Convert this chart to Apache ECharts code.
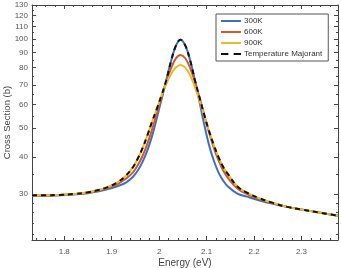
<!DOCTYPE html>
<html><head><meta charset="utf-8">
<script src="https://cdn.jsdelivr.net/npm/echarts@6/dist/echarts.min.js"></script>
<style>html,body{margin:0;padding:0;background:#fff}#c{width:341px;height:268px}</style>
</head><body><div id="c"></div>
<script>
const energy = [1.732,1.76,1.79,1.82,1.85,1.87,1.89,1.91,1.93,1.945,1.955,1.965,1.975,1.985,1.995,2.005,2.015,2.025,2.035,2.045,2.055,2.065,2.075,2.085,2.095,2.105,2.115,2.125,2.135,2.145,2.165,2.185,2.21,2.24,2.27,2.30,2.34,2.377];
const s300 = [29.6,29.6,29.7,29.9,30.2,30.6,31.1,31.8,32.8,34.3,36.0,38.5,42.0,47.0,54,62.5,72.5,84,94.5,99.3,95,85,73,61.5,51.5,44,39,35.5,33.3,31.8,30.1,29.4,28.6,27.8,27.15,26.6,25.95,25.35];
const s600 = [29.7,29.7,29.8,30.0,30.3,30.8,31.4,32.3,33.8,35.5,37.5,40.3,44.2,49.5,56,63.5,71.5,79.5,85.8,88.2,86,80,72,63.5,55.5,48.5,43,39,36,34,31.3,30.0,28.9,27.95,27.15,26.6,25.95,25.35];
const s900 = [29.7,29.7,29.8,30.0,30.4,30.9,31.6,32.7,34.6,37,39.5,42.8,47.2,52.5,58,64.5,70.5,76,80,81.6,80,75.5,69,62,55,49,44,40,37,35,31.8,30.3,29.1,28.0,27.15,26.6,25.95,25.35];
const sMaj = [29.7,29.7,29.8,30.0,30.4,30.9,31.6,32.7,34.6,37,39.5,42.8,47.2,52.5,58,64.5,72.5,84,94.5,99.3,95,85,73,63.5,55.5,49,44,40,37,35,31.8,30.3,29.1,28.0,27.15,26.6,25.95,25.35];
const yTickLabels = [30,40,50,60,70,80,90,100,110,120,130];
const yMinorTicks = [22,24,26,28,35,45,55,65,75,85,95,105,115,125];
const xTickLabels = [1.8,1.9,2.0,2.1,2.2,2.3];
const xMinorTicks = [1.74,1.76,1.78,1.82,1.84,1.86,1.88,1.92,1.94,1.96,1.98,2.02,2.04,2.06,2.08,2.12,2.14,2.16,2.18,2.22,2.24,2.26,2.28,2.32,2.34,2.36];
const names = ['300K','600K','900K','Temperature Majorant'];

const pair = arr => energy.map((e,i)=>[e,arr[i]]);
const chart = echarts.init(document.getElementById('c'));
const axLine = {show:true,lineStyle:{color:'#444',width:1}};
const xBase = {type:'value',min:1.732,max:2.377,gridIndex:0,splitLine:{show:false}};
const yBase = {type:'log',min:21,max:130,splitLine:{show:false}};
const txt = {color:'#555',fontSize:8,fontFamily:'Liberation Sans'};
const solidIcon = 'path://M0,4 L20,4 L20,6 L0,6 Z';
const dashIcon = 'path://M0,4 L7,4 L7,6 L0,6 Z M12,4 L19,4 L19,6 L12,6 Z';
chart.setOption({
  animation:false,
  grid:{left:32,right:3,top:5,bottom:28,outerBoundsMode:'none',containLabel:false},
  legend:{
    data:[{name:names[0],icon:solidIcon},{name:names[1],icon:solidIcon},{name:names[2],icon:solidIcon},{name:names[3],icon:dashIcon}],
    orient:'vertical', left:216, top:14,
    backgroundColor:'#fff', borderColor:'#555', borderWidth:1, borderRadius:0,
    padding:[3,6,3,5], itemGap:3, itemWidth:20, itemHeight:8,
    textStyle:{color:'#333',fontSize:8,fontFamily:'Liberation Sans',padding:[0,0,0,-2]}
  },
  xAxis:[
    Object.assign({},xBase,{position:'bottom',axisLine:axLine,
      axisTick:{inside:true,length:4,customValues:xTickLabels,lineStyle:{color:'#444'}},
      axisLabel:Object.assign({customValues:xTickLabels,margin:8},txt),
      name:'Energy (eV)',nameLocation:'middle',nameGap:18,nameMoveOverlap:false,nameTextStyle:{color:'#444',fontSize:10,fontFamily:'Liberation Sans'}}),
    Object.assign({},xBase,{position:'bottom',axisLine:{show:false},
      axisTick:{inside:true,length:2,customValues:xMinorTicks,lineStyle:{color:'#444'}},axisLabel:{show:false}}),
    Object.assign({},xBase,{position:'top',axisLine:axLine,
      axisTick:{inside:true,length:4,customValues:xTickLabels,lineStyle:{color:'#444'}},axisLabel:{show:false}}),
    Object.assign({},xBase,{position:'top',axisLine:{show:false},
      axisTick:{inside:true,length:2,customValues:xMinorTicks,lineStyle:{color:'#444'}},axisLabel:{show:false}})
  ],
  yAxis:[
    Object.assign({},yBase,{position:'left',axisLine:axLine,
      axisTick:{inside:true,length:4,customValues:yTickLabels,lineStyle:{color:'#444'}},
      axisLabel:Object.assign({customValues:yTickLabels,margin:4},txt),
      name:'Cross Section (b)',nameLocation:'middle',nameGap:20,nameMoveOverlap:false,nameRotate:90,nameTextStyle:{color:'#444',fontSize:9.5,fontFamily:'Liberation Sans'}}),
    Object.assign({},yBase,{position:'left',axisLine:{show:false},
      axisTick:{inside:true,length:2,customValues:yMinorTicks,lineStyle:{color:'#444'}},axisLabel:{show:false}}),
    Object.assign({},yBase,{position:'right',axisLine:axLine,
      axisTick:{inside:true,length:4,customValues:yTickLabels,lineStyle:{color:'#444'}},axisLabel:{show:false}}),
    Object.assign({},yBase,{position:'right',axisLine:{show:false},
      axisTick:{inside:true,length:2,customValues:yMinorTicks,lineStyle:{color:'#444'}},axisLabel:{show:false}})
  ],
  series:[
    {name:names[0],type:'line',data:pair(s300),smooth:0.4,showSymbol:false,lineStyle:{color:'#3e6ec8',width:2},itemStyle:{color:'#3e6ec8'}},
    {name:names[1],type:'line',data:pair(s600),smooth:0.4,showSymbol:false,lineStyle:{color:'#d35a2a',width:2},itemStyle:{color:'#d35a2a'}},
    {name:names[2],type:'line',data:pair(s900),smooth:0.4,showSymbol:false,lineStyle:{color:'#e8bb2c',width:2},itemStyle:{color:'#e8bb2c'}},
    {name:names[3],type:'line',data:pair(sMaj),smooth:0.4,showSymbol:false,lineStyle:{color:'#111',width:2,type:[5,4]},itemStyle:{color:'#111'}}
  ]
});
</script></body></html>
